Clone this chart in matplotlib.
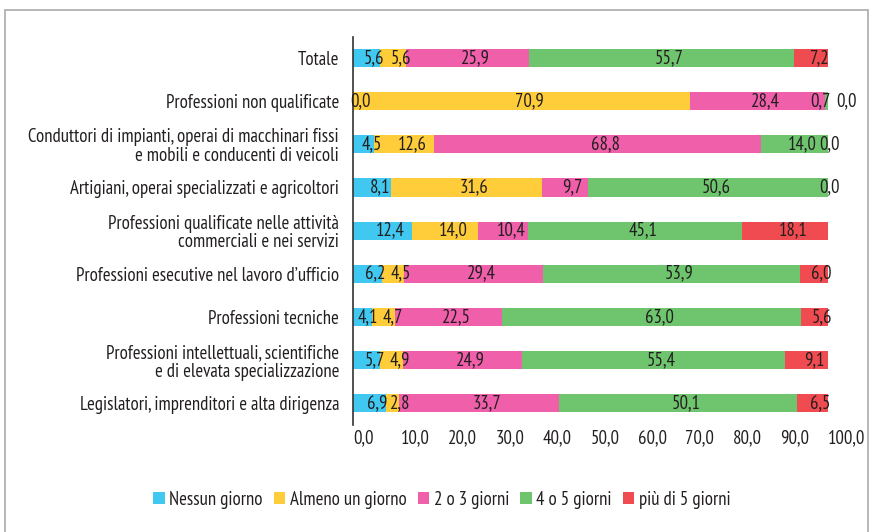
import matplotlib
matplotlib.use("Agg")
import matplotlib.pyplot as plt
from matplotlib.patches import Rectangle
import numpy as np

plt.rcParams['font.family'] = ['PT Sans Narrow', 'DejaVu Sans']

categories = [
    "Totale",
    "Professioni non qualificate",
    "Conduttori di impianti, operai di macchinari fissi\ne mobili e conducenti di veicoli",
    "Artigiani, operai specializzati e agricoltori",
    "Professioni qualificate nelle attività\ncommerciali e nei servizi",
    "Professioni esecutive nel lavoro d’ufficio",
    "Professioni tecniche",
    "Professioni intellettuali, scientifiche\ne di elevata specializzazione",
    "Legislatori, imprenditori e alta dirigenza",
]
series = ["Nessun giorno", "Almeno un giorno", "2 o 3 giorni", "4 o 5 giorni", "più di 5 giorni"]
nessun = [5.6, 0.0, 4.5, 8.1, 12.4, 6.2, 4.1, 5.7, 6.9]
almeno = [5.6, 70.9, 12.6, 31.6, 14.0, 4.5, 4.7, 4.9, 2.8]
due_tre = [25.9, 28.4, 68.8, 9.7, 10.4, 29.4, 22.5, 24.9, 33.7]
quattro_cinque = [55.7, 0.7, 14.0, 50.6, 45.1, 53.9, 63.0, 55.4, 50.1]
oltre_cinque = [7.2, 0.0, 0.0, 0.0, 18.1, 6.0, 5.6, 9.1, 6.5]
xticks = [0, 10, 20, 30, 40, 50, 60, 70, 80, 90, 100]

colors = ["#41C8F0", "#FFCC3A", "#EF5FAA", "#6EC56E", "#EF4B50"]
text_color = "#231F20"
fs = 13.5

fig = plt.figure(figsize=(8.7, 5.32), dpi=100)
ax = fig.add_axes([353 / 870, 1 - 424.6 / 532, 475 / 870, 388 / 532])

values = [nessun, almeno, due_tre, quattro_cinque, oltre_cinque]
y = np.arange(len(categories))
left = np.zeros(len(categories))
# small manual nudges (pixels) for crowded labels: (row, series) -> dx
nudges = {(1, 3): -14, (1, 4): 10, (2, 4): -6, (3, 4): -6, (6, 0): -3, (6, 1): 1}
for s, (name, vals, col) in enumerate(zip(series, values, colors)):
    vals = np.array(vals)
    ax.barh(y, vals, left=left, height=0.42, color=col, label=name)
    for i, v in enumerate(vals):
        cx = left[i] + v / 2
        dx = 8 + nudges.get((i, s), 0)
        ax.annotate(f"{v:.1f}".replace(".", ","), (cx, y[i]), xytext=(dx * 0.72, 0),
                    textcoords="offset points", ha="center", va="center",
                    fontsize=fs, color=text_color)
    left += vals

ax.set_xlim(0, 100)
ax.set_ylim(len(categories) - 0.5, -0.5)
ax.set_yticks(y)
ax.set_yticklabels(categories, fontsize=fs, color=text_color, linespacing=1.05)
ax.set_xticks(xticks)
ax.set_xticklabels([f"{t:.1f}".replace(".", ",") for t in xticks], fontsize=fs,
                   color=text_color, ha="left")
ax.tick_params(axis="x", length=0, pad=3)
ax.tick_params(axis="y", length=0, pad=10)
for sp in ["top", "right", "bottom"]:
    ax.spines[sp].set_visible(False)
ax.spines["left"].set_color("#333333")
ax.spines["left"].set_linewidth(1.2)

leg = fig.legend(loc="center", bbox_to_anchor=(442 / 870, 1 - 500 / 532), ncol=5, frameon=False,
                 fontsize=fs, handlelength=0.6, handleheight=0.6, handletextpad=0.25, columnspacing=0.6)
for t in leg.get_texts():
    t.set_color(text_color)

fig.patches.append(Rectangle((5 / 870, -0.02), 863 / 870, 1 - 10 / 532 + 0.02, transform=fig.transFigure,
                             fill=False, edgecolor="#AAAAAA", linewidth=1.2))

fig.savefig("out.png", dpi=100)
